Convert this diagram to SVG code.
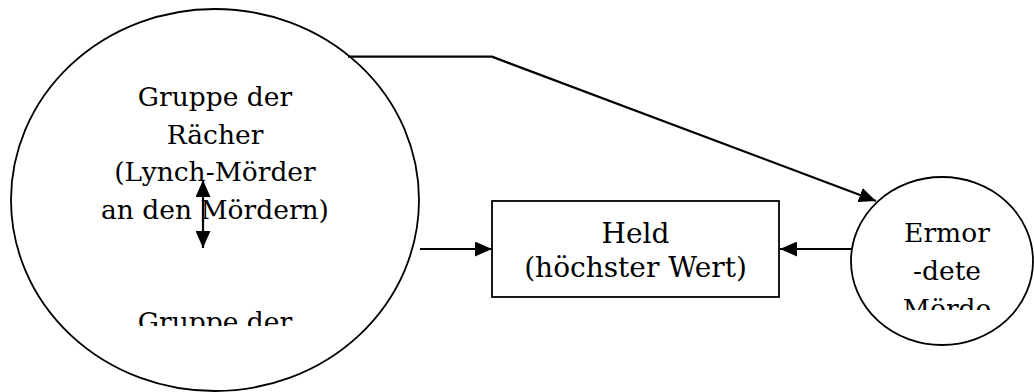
<svg xmlns="http://www.w3.org/2000/svg" width="1034" height="392" viewBox="0 0 1034 392">
<style>
.shape{fill:#fff;stroke:#000;stroke-width:1.8}
.lbl{font-family:"DejaVu Serif","Liberation Serif",serif;font-size:26.5px;fill:#000;text-anchor:middle}
.big{font-size:28px}
.conn{fill:none;stroke:#000;stroke-width:2.2}
</style>
<defs>
<marker id="ah" viewBox="0 0 16 14" refX="16" refY="7" markerWidth="17" markerHeight="15" markerUnits="userSpaceOnUse" orient="auto-start-reverse">
<path d="M0,0 L16,7 L0,14 z" fill="#000"/>
</marker>
<clipPath id="clipL"><rect x="0" y="0" width="440" height="326"/></clipPath>
<clipPath id="clipR"><rect x="840" y="170" width="194" height="140"/></clipPath>
</defs>
<rect width="1034" height="392" fill="#fff"/>
<g id="node-raecher">
<ellipse class="shape" cx="215" cy="200" rx="204" ry="191"/>
<g clip-path="url(#clipL)">
<text class="lbl" x="215" y="106">Gruppe der</text>
<text class="lbl" x="215" y="143.5">Rächer</text>
<text class="lbl" x="215" y="181">(Lynch-Mörder</text>
<text class="lbl" x="215" y="218.5">an den Mördern)</text>
<text class="lbl" x="215" y="331">Gruppe der</text>
</g>
</g>
<g id="node-held">
<rect class="shape" x="492" y="201" width="287" height="96"/>
<text class="lbl big" x="635.5" y="243">Held</text>
<text class="lbl big" x="635.5" y="277">(höchster Wert)</text>
</g>
<g id="node-ermordete">
<ellipse class="shape" cx="942" cy="261" rx="91" ry="84"/>
<g clip-path="url(#clipR)">
<text class="lbl" x="947" y="242">Ermor</text>
<text class="lbl" x="947" y="280">-dete</text>
<text class="lbl" x="947" y="318">Mörde</text>
</g>
</g>
<g id="connectors">
<polyline class="conn" points="348,56.7 492,56.7 876,201" marker-end="url(#ah)"/>
<line class="conn" x1="420" y1="249" x2="492" y2="249" marker-end="url(#ah)"/>
<line class="conn" x1="852" y1="249" x2="780" y2="249" marker-end="url(#ah)"/>
<line class="conn" x1="203" y1="180" x2="203" y2="248" marker-start="url(#ah)" marker-end="url(#ah)"/>
</g>
</svg>
